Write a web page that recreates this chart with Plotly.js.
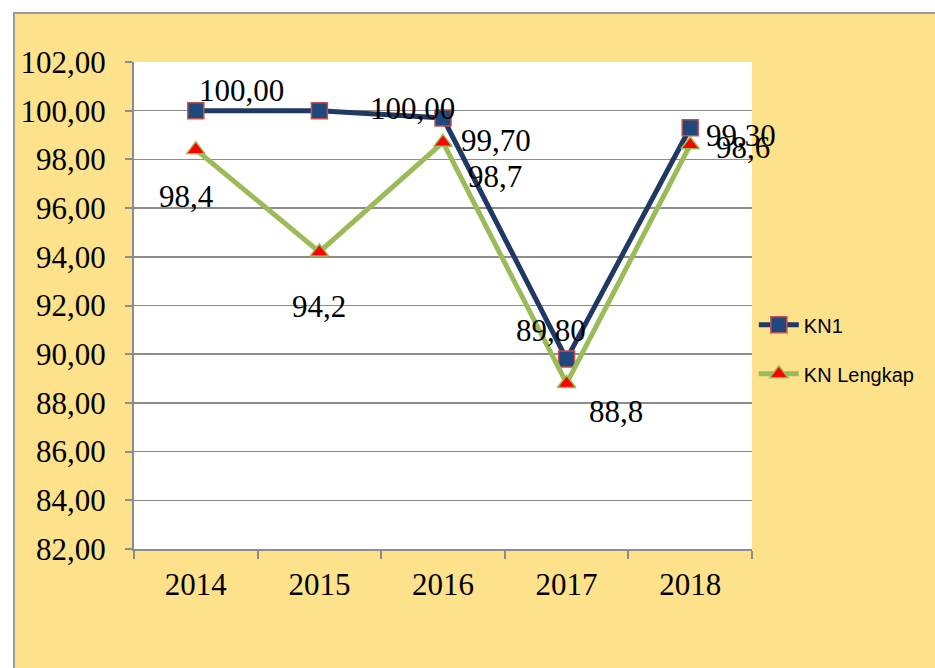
<!DOCTYPE html>
<html>
<head>
<meta charset="utf-8">
<script src="https://cdn.plot.ly/plotly-3.0.1.min.js"></script>
<style>
  html, body { margin: 0; padding: 0; background: #ffffff; width: 935px; height: 668px; overflow: hidden; }
  #chart { position: absolute; left: 13px; top: 12px; width: 922px; height: 656px;
           border-left: 2px solid #9a9a9a; border-top: 2px solid #9a9a9a; }
</style>
</head>
<body>
<div id="chart"></div>
<script>
// ---- data ----
const years = ['2014', '2015', '2016', '2017', '2018'];
const kn1 = [100.00, 100.00, 99.70, 89.80, 99.30];
const knLengkap = [98.4, 94.2, 98.7, 88.8, 98.6];
const seriesNames = ['KN1', 'KN Lengkap'];

// ---- label placement (pixel shifts, style only) ----
const kn1Shift = [[46, 20], [93, 2], [53, -22], [-16, 29], [51, -8]];
const knlShift = [[-9, -47], [0, -55], [52, -34], [49, -28], [53, -3]];

const fmt = (v, d) => v.toFixed(d).replace('.', ',');

const traces = [
  {
    x: years, y: kn1, name: seriesNames[0], type: 'scatter', mode: 'lines+markers',
    legendgroup: 'a',
    line: { color: '#1F3864', width: 5 },
    marker: { symbol: 'square', size: 16, color: '#1F497D', line: { color: '#C0504D', width: 1.5 } }
  },
  {
    x: years, y: knLengkap, name: seriesNames[1], type: 'scatter', mode: 'lines+markers',
    legendgroup: 'b',
    line: { color: '#9BBB59', width: 5 },
    marker: { symbol: 'triangle-up', size: 16, color: '#FF0000', line: { color: '#9BBB59', width: 1.5 } }
  }
];

const serif = 'Liberation Serif, Times New Roman, serif';
const labelFont = { family: serif, size: 31, color: '#000000' };
const annotations = [];
years.forEach((yr, i) => {
  annotations.push({ x: i, y: kn1[i], xref: 'x', yref: 'y', text: fmt(kn1[i], 2), showarrow: false,
    xshift: kn1Shift[i][0], yshift: kn1Shift[i][1], font: labelFont });
  annotations.push({ x: i, y: knLengkap[i], xref: 'x', yref: 'y', text: fmt(knLengkap[i], 1), showarrow: false,
    xshift: knlShift[i][0], yshift: knlShift[i][1], font: labelFont });
});

const layout = {
  width: 922, height: 656,
  paper_bgcolor: '#FDE28B',
  plot_bgcolor: '#FFFFFF',
  separators: ', ',
  margin: { l: 119, r: 185, t: 48, b: 121, pad: 0 },
  font: { family: serif, size: 31, color: '#000000' },
  xaxis: {
    type: 'category', range: [-0.5, 4.5], tickson: 'boundaries',
    showline: true, linecolor: '#8c8c8c', linewidth: 2,
    ticks: 'outside', ticklen: 8, tickwidth: 2, tickcolor: '#8c8c8c',
    showgrid: false, zeroline: false, ticklabelstandoff: 7,
    tickfont: { family: serif, size: 31, color: '#000' }
  },
  yaxis: {
    range: [82, 102], dtick: 2, tick0: 82, tickformat: '.2f',
    showline: true, linecolor: '#8c8c8c', linewidth: 2,
    ticks: 'outside', ticklen: 7, tickwidth: 2, tickcolor: '#8c8c8c',
    showgrid: true, gridcolor: '#8c8c8c', gridwidth: 1.5, zeroline: false,
    ticklabelstandoff: 13,
    tickfont: { family: serif, size: 31, color: '#000' }
  },
  legend: {
    x: 1.003, y: 0.41, xanchor: 'left', yanchor: 'middle',
    bgcolor: 'rgba(0,0,0,0)', traceorder: 'grouped', tracegroupgap: 20,
    font: { family: 'Liberation Sans, Arial, sans-serif', size: 20, color: '#000' },
    itemwidth: 40
  },
  showlegend: true,
  annotations: annotations
};

Plotly.newPlot('chart', traces, layout, { displayModeBar: false, staticPlot: true });
</script>
</body>
</html>
